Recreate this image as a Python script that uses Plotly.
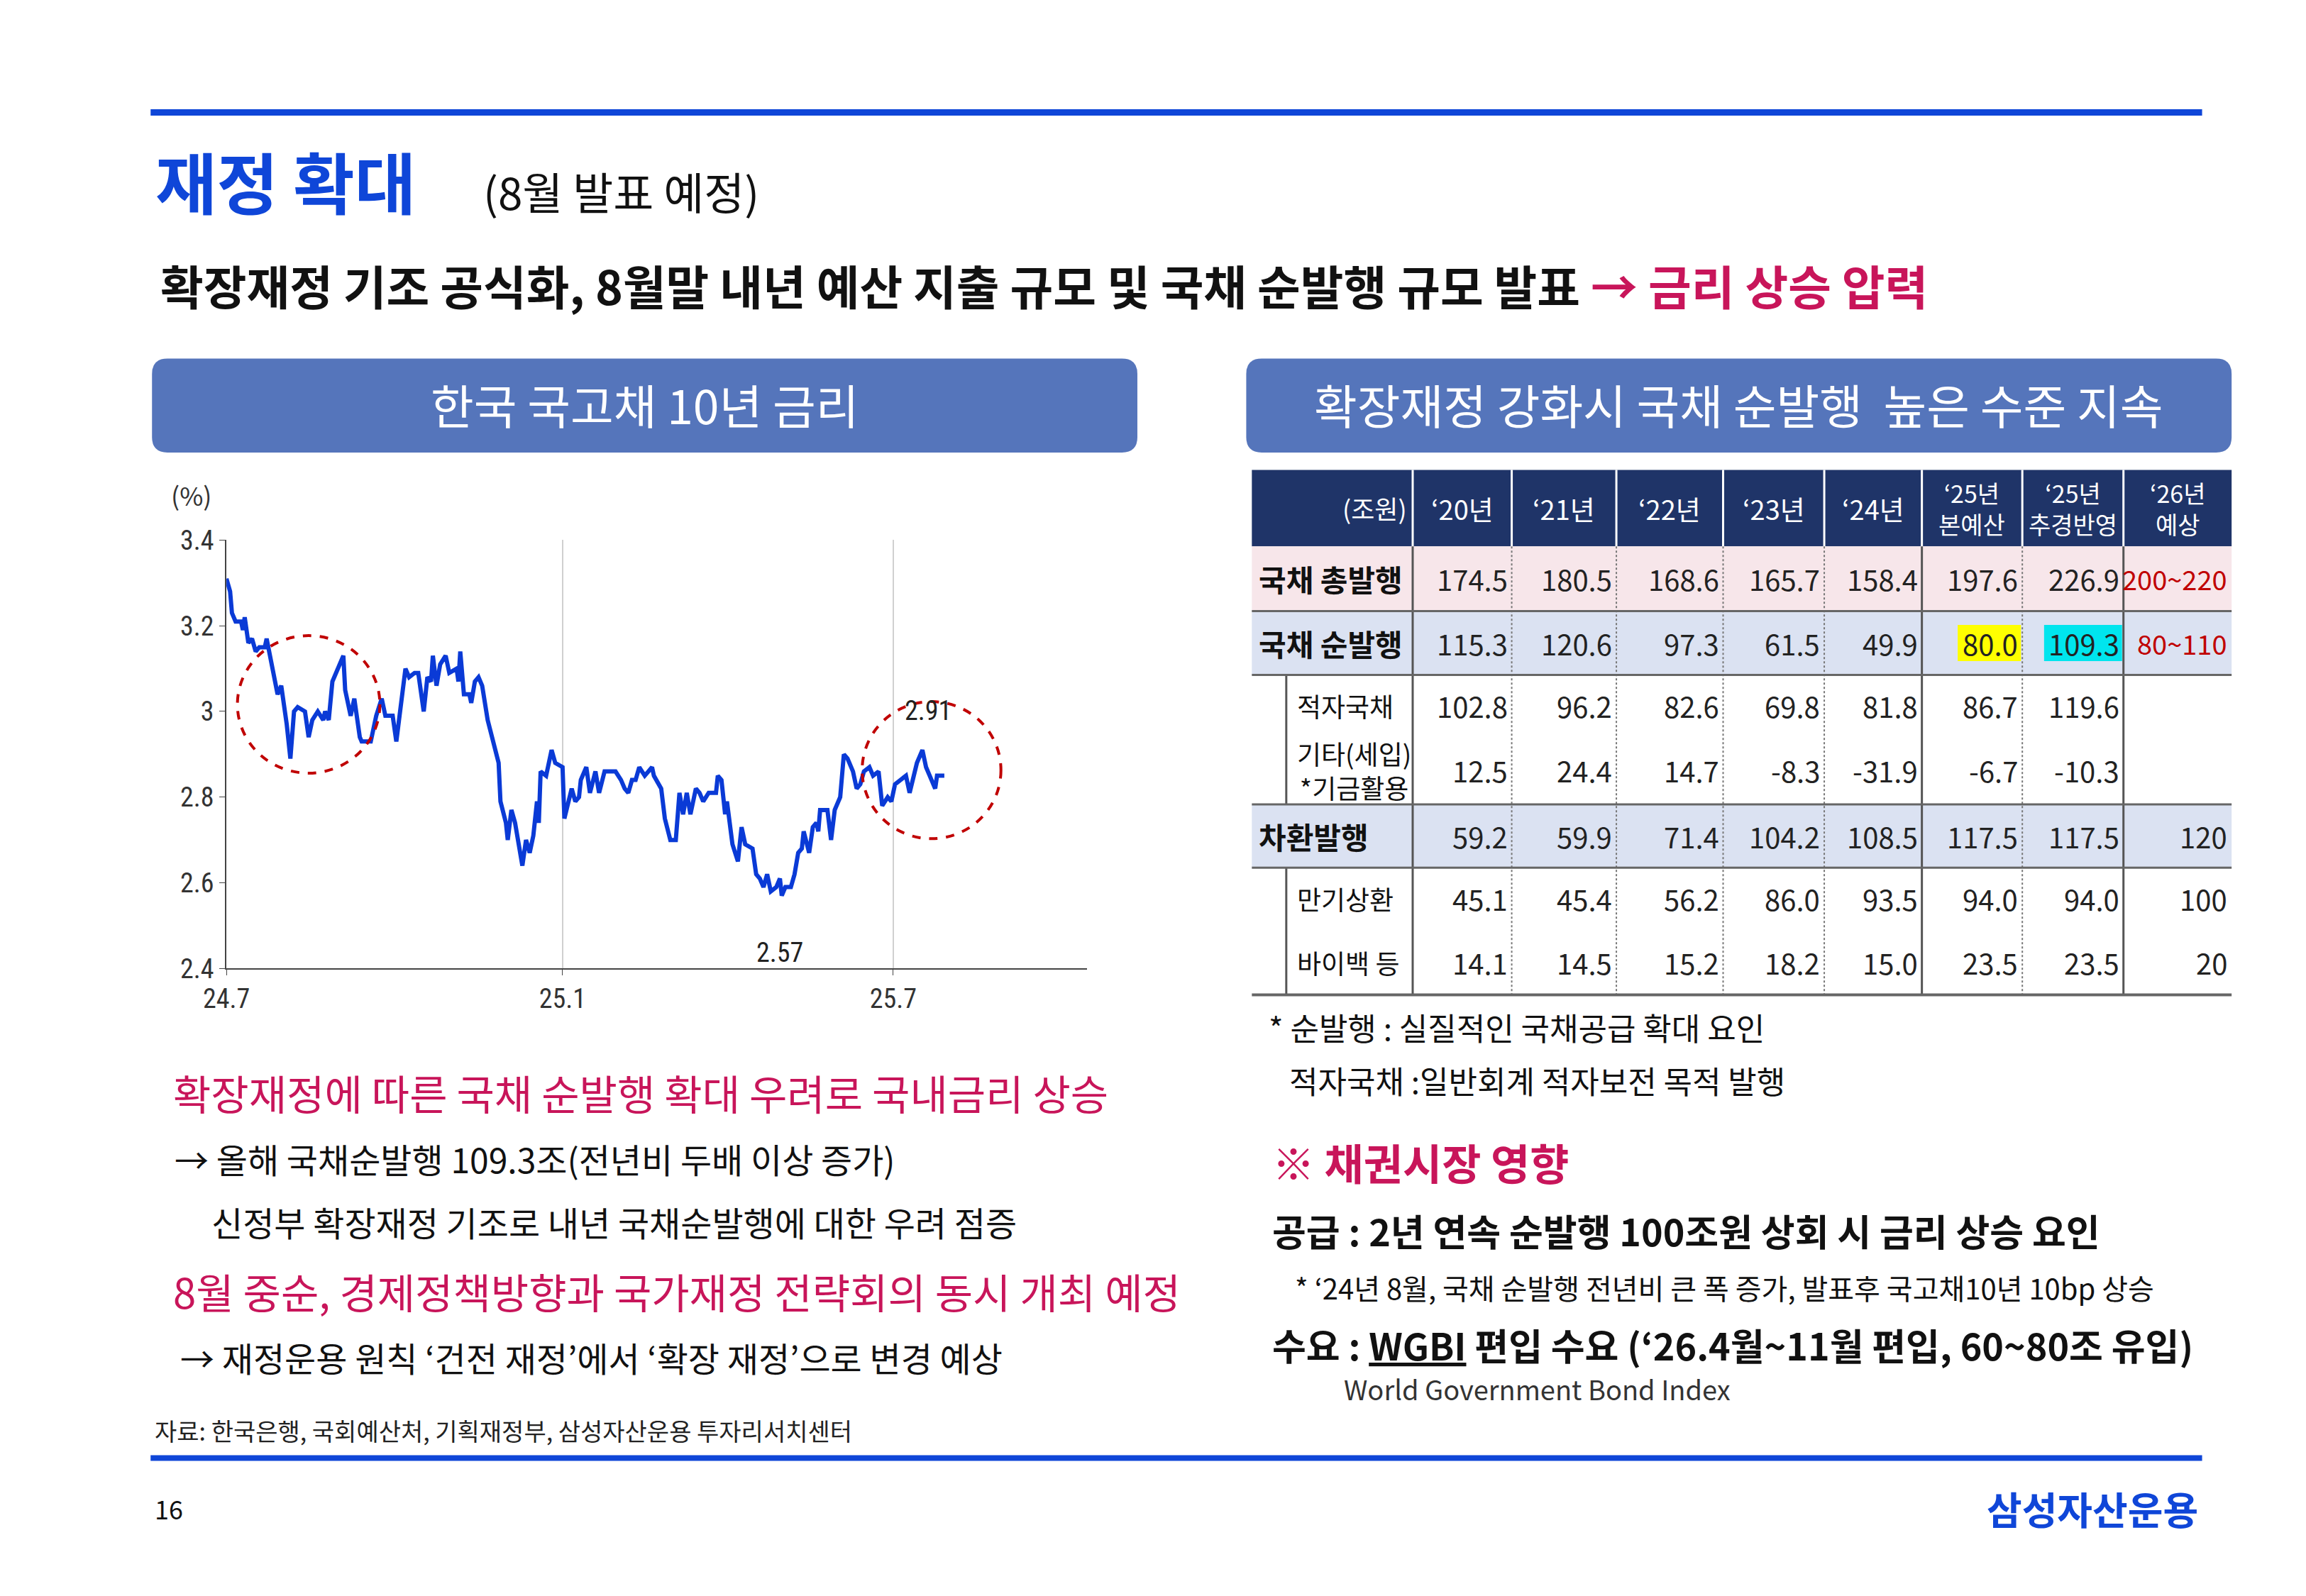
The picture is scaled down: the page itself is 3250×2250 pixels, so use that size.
import datetime as dt
import plotly.graph_objects as go

W, H = 3250, 2250
KR = "Noto Sans CJK KR"
NUM = "Liberation Sans Narrow, Roboto Condensed, Liberation Sans"

# ---- data: Korea 10Y yield (days since 2024-07-01, %) ----
day_offsets = [0,2,3,5,8,9,10,12,14,16,18,21,22,24,28,30,33,35,37,39,43,45,47,50,53,54,56,58,61,64,65,68,70,73,74,79,82,85,87,91,93,96,98,100,103,105,108,110,112,113,115,117,120,122,126,127,128,130,133,134,136,138,140,143,146,149,150,153,154,156,158,160,162,164,166,168,170,171,172,175,177,178,180,184,185,188,189,191,193,194,197,199,202,204,207,213,216,218,220,222,224,226,229,233,234,238,240,243,246,248,250,252,254,257,259,261,264,268,269,271,273,274,277,280,282,284,288,290,292,294,296,298,301,303,304,306,309,311,313,315,316,319,321,323,324,325,328,329,331,333,336,338,340,343,345,347,349,352,354,357,359,362,364,366,369,372,374,376,378,381,383,385,388,389,393]
yields = [3.31,3.28,3.23,3.21,3.21,3.19,3.22,3.16,3.17,3.14,3.15,3.15,3.17,3.13,3.04,3.06,2.97,2.89,3.00,3.01,3.00,2.94,2.98,3.00,2.98,3.00,2.98,3.07,3.10,3.13,3.05,2.99,3.03,2.94,2.93,2.93,2.99,3.03,2.99,2.99,2.93,3.04,3.10,3.08,3.09,3.09,3.00,3.08,3.07,3.13,3.06,3.11,3.13,3.09,3.10,3.07,3.14,3.04,3.04,3.02,3.07,3.08,3.06,2.98,2.93,2.88,2.79,2.74,2.70,2.77,2.74,2.69,2.64,2.70,2.67,2.71,2.79,2.74,2.86,2.85,2.89,2.91,2.88,2.87,2.75,2.80,2.82,2.79,2.80,2.84,2.87,2.81,2.86,2.81,2.86,2.86,2.84,2.82,2.81,2.84,2.84,2.87,2.85,2.87,2.85,2.82,2.75,2.70,2.70,2.81,2.76,2.81,2.76,2.82,2.81,2.79,2.81,2.81,2.85,2.84,2.76,2.79,2.69,2.65,2.73,2.69,2.68,2.62,2.61,2.59,2.62,2.58,2.59,2.61,2.57,2.59,2.59,2.62,2.67,2.68,2.72,2.67,2.73,2.74,2.72,2.77,2.77,2.77,2.70,2.77,2.80,2.90,2.89,2.86,2.82,2.83,2.86,2.87,2.85,2.86,2.78,2.80,2.79,2.83,2.84,2.85,2.81,2.85,2.88,2.91,2.87,2.85,2.82,2.85,2.85]
base_date = dt.date(2024, 7, 1)
dates = [base_date + dt.timedelta(days=d) for d in day_offsets]
y_ticks = [2.4, 2.6, 2.8, 3.0, 3.2, 3.4]
y_ticktext = ["2.4", "2.6", "2.8", "3", "3.2", "3.4"]
x_ticks = ["2024-07-01", "2025-01-01", "2025-07-01"]
x_ticktext = ["24.7", "25.1", "25.7"]

# ---- data: table ----
col_headers = ["(조원)", "‘20년", "‘21년", "‘22년", "‘23년", "‘24년", "‘25년<br>본예산", "‘25년<br>추경반영", "‘26년<br>예상"]
gross_issue = ["174.5", "180.5", "168.6", "165.7", "158.4", "197.6", "226.9", "200~220"]
net_issue = ["115.3", "120.6", "97.3", "61.5", "49.9", "80.0", "109.3", "80~110"]
deficit_bonds = ["102.8", "96.2", "82.6", "69.8", "81.8", "86.7", "119.6", ""]
other_items = ["12.5", "24.4", "14.7", "-8.3", "-31.9", "-6.7", "-10.3", ""]
refinancing = ["59.2", "59.9", "71.4", "104.2", "108.5", "117.5", "117.5", "120"]
maturity = ["45.1", "45.4", "56.2", "86.0", "93.5", "94.0", "94.0", "100"]
buyback = ["14.1", "14.5", "15.2", "18.2", "15.0", "23.5", "23.5", "20"]

def px(x):
    return x / W

def py(y):
    return 1 - y / H

ann = []
shapes = []

def text(x, y, s, size, color="#111", anchor="left", bold=False, font=KR, yanchor="middle"):
    if bold:
        s = "<b>" + s + "</b>"
    ann.append(dict(x=px(x), y=py(y), xref="paper", yref="paper", text=s, showarrow=False,
                    xanchor=anchor, yanchor=yanchor, font=dict(size=size, color=color, family=font)))

def rect(x0, y0, x1, y1, fill=None, line=None, lw=0, layer="below"):
    shapes.append(dict(type="rect", xref="paper", yref="paper", x0=px(x0), x1=px(x1), y0=py(y1), y1=py(y0),
                       fillcolor=fill or "rgba(0,0,0,0)", line=dict(color=line or "rgba(0,0,0,0)", width=lw),
                       layer=layer))

def hline(x0, x1, y, color, w, dash=None):
    shapes.append(dict(type="line", xref="paper", yref="paper", x0=px(x0), x1=px(x1), y0=py(y), y1=py(y),
                       line=dict(color=color, width=w, dash=dash)))

def vline(x, y0, y1, color, w, dash=None):
    shapes.append(dict(type="line", xref="paper", yref="paper", x0=px(x), x1=px(x), y0=py(y0), y1=py(y1),
                       line=dict(color=color, width=w, dash=dash)))

def rounded(x0, y0, x1, y1, r, fill):
    X = lambda v: px(v)
    Y = lambda v: py(v)
    path = (f"M {X(x0+r)},{Y(y0)} L {X(x1-r)},{Y(y0)} Q {X(x1)},{Y(y0)} {X(x1)},{Y(y0+r)} "
            f"L {X(x1)},{Y(y1-r)} Q {X(x1)},{Y(y1)} {X(x1-r)},{Y(y1)} L {X(x0+r)},{Y(y1)} "
            f"Q {X(x0)},{Y(y1)} {X(x0)},{Y(y1-r)} L {X(x0)},{Y(y0+r)} Q {X(x0)},{Y(y0)} {X(x0+r)},{Y(y0)} Z")
    shapes.append(dict(type="path", xref="paper", yref="paper", path=path, fillcolor=fill, line=dict(width=0), layer="below"))

BLUE = "#0f46d8"
CRIM = "#c8155a"
HDR = "#5575bb"

# page chrome
hline(173, 3094, 131, BLUE, 9)
hline(173, 3094, 2066, BLUE, 8)
text(178, 228, "재정 확대", 94, BLUE, bold=True)
text(645, 244, "(8월 발표 예정)", 62, "#111")
text(185, 378, "확장재정 기조 공식화, 8월말 내년 예산 지출 규모 및 국채 순발행 규모 발표 <span style='color:%s'>→ 금리 상승 압력</span>" % CRIM, 66, "#111", bold=True)
rounded(175, 485, 1578, 620, 22, HDR)
rounded(1733, 485, 3136, 620, 22, HDR)
text(876, 550, "한국 국고채 10년 금리", 66, "white", anchor="center")
text(2434, 550, "확장재정 강화시 국채 순발행  높은 수준 지속", 66, "white", anchor="center")
text(200, 680, "(%)", 36, "#333")

# left text block
text(203, 1540, "확장재정에 따른 국채 순발행 확대 우려로 국내금리 상승", 58, CRIM)
text(205, 1635, "→ 올해 국채순발행 109.3조(전년비 두배 이상 증가)", 48, "#111")
text(258, 1726, "신정부 확장재정 기조로 내년 국채순발행에 대한 우려 점증", 48, "#111")
text(203, 1826, "8월 중순, 경제정책방향과 국가재정 전략회의 동시 개최 예정", 58, CRIM)
text(213, 1921, "→ 재정운용 원칙 ‘건전 재정’에서 ‘확장 재정’으로 변경 예상", 48, "#111")
text(177, 2026, "자료: 한국은행, 국회예산처, 기획재정부, 삼성자산운용 투자리서치센터", 34, "#222")
text(177, 2138, "16", 36, "#111")
text(3090, 2138, "삼성자산운용", 54, BLUE, anchor="right", bold=True)

# right notes
text(1763, 1446, "* 순발행 : 실질적인 국채공급 확대 요인", 44, "#111")
text(1792, 1523, "적자국채 :일반회계 적자보전 목적 발행", 44, "#111")
text(1768, 1640, "※ 채권시장 영향", 60, CRIM, bold=True)
text(1768, 1738, "공급 : 2년 연속 순발행 100조원 상회 시 금리 상승 요인", 52, "#111", bold=True)
text(1800, 1821, "* ‘24년 8월, 국채 순발행 전년비 큰 폭 증가, 발표후 국고채10년 10bp 상승", 40, "#111")
text(1768, 1903, "수요 : <u>WGBI</u> 편입 수요 (‘26.4월~11월 편입, 60~80조 유입)", 52, "#111", bold=True)
text(1870, 1966, "World Government Bond Index", 38, "#333")

# ---- table ----
col_x = [1741, 1970, 2111, 2260, 2412, 2556, 2695, 2838, 2982, 3136]
row_y = [645, 755, 848, 940, 1028, 1126, 1217, 1307, 1400]
rows = [
    ("국채 총발행", gross_issue, "#f7e6ea", True, row_y[1], row_y[2]),
    ("국채 순발행", net_issue, "#dbe2f2", True, row_y[2], row_y[3]),
    ("적자국채", deficit_bonds, None, False, row_y[3], row_y[4]),
    ("기타(세입)<br>*기금활용", other_items, None, False, row_y[4], row_y[5]),
    ("차환발행", refinancing, "#dbe2f2", True, row_y[5], row_y[6]),
    ("만기상환", maturity, None, False, row_y[6], row_y[7]),
    ("바이백 등", buyback, None, False, row_y[7], row_y[8]),
]
rect(col_x[0], row_y[0], col_x[-1], row_y[1], fill="#1f3468")
for j, h in enumerate(col_headers):
    if j == 0:
        text(col_x[1] - 6, (row_y[0] + row_y[1]) / 2, h, 36, "white", anchor="right")
    else:
        vline(col_x[j], row_y[0], row_y[1], "white", 3)
        text((col_x[j] + col_x[j + 1]) / 2, (row_y[0] + row_y[1]) / 2, h, 34 if "<br>" in h else 38,
             "white", anchor="center")

for i, (label, vals, fill, main, y0, y1) in enumerate(rows):
    if fill:
        rect(col_x[0], y0, col_x[-1], y1, fill=fill)
    ym = (y0 + y1) / 2
    if main:
        text(col_x[0] + 8, ym, label, 42, "#111", bold=True)
    else:
        text(col_x[0] + 62, ym, label, 37, "#111")
    for j, v in enumerate(vals):
        if not v:
            continue
        xr = col_x[j + 2] - 4
        color = "#c00000" if j == 7 and i <= 1 else "#222"
        if label == "국채 순발행" and j in (5, 6):
            hl = "#ffff00" if j == 5 else "#00e5ee"
            rect(xr - 21 * len(v) - 4, ym - 26, xr + 2, ym + 26, fill=hl)
        text(xr, ym, v, 38 if j == 7 and i <= 1 else 40, color, anchor="right")

for j in range(2, 9):
    solid = j in (6, 8)
    vline(col_x[j], row_y[1], row_y[-1], "#555" if solid else "#777", 3 if solid else 2, None if solid else "dot")
vline(col_x[1], row_y[1], row_y[-1], "#555", 3)
vline(1790, row_y[3], row_y[5], "#555", 3)
vline(1790, row_y[6], row_y[-1], "#555", 3)
for k in (2, 3, 5, 6):
    hline(col_x[0], col_x[-1], row_y[k], "#666", 3)
hline(col_x[0], col_x[-1], row_y[-1], "#666", 4)

# ---- chart ----
fig = go.Figure()
fig.add_trace(go.Scatter(x=dates, y=yields, mode="lines", line=dict(color="#0a3ad6", width=6), hoverinfo="skip"))

circles = [("2024-07-07", "2024-09-23", 2.856, 3.177), ("2025-06-14", "2025-08-29", 2.703, 3.023)]
for x0, x1, y0, y1 in circles:
    shapes.append(dict(type="circle", xref="x", yref="y", x0=x0, x1=x1, y0=y0, y1=y1,
                       line=dict(color="#c00000", width=4, dash="dash")))
ann.append(dict(x="2025-07-20", y=2.91, xref="x", yref="y", text="2.91", showarrow=False, yshift=55,
                font=dict(size=38, family=NUM, color="#222")))
ann.append(dict(x="2025-04-30", y=2.57, xref="x", yref="y", text="2.57", showarrow=False, yshift=-80,
                font=dict(size=38, family=NUM, color="#222")))

fig.update_layout(
    width=W, height=H, margin=dict(l=0, r=0, t=0, b=0), paper_bgcolor="white", plot_bgcolor="white",
    showlegend=False, shapes=shapes, annotations=ann,
    xaxis=dict(domain=[px(281), px(1506)], type="date", range=["2024-07-01", "2025-10-15"],
               tickvals=x_ticks, ticktext=x_ticktext, showgrid=True, gridcolor="#d0d0d0", gridwidth=2,
               showline=True, linecolor="#444", linewidth=2, ticks="outside", ticklen=8, tickcolor="#444",
               tickfont=dict(size=38, family=NUM, color="#333"), zeroline=False),
    yaxis=dict(domain=[py(1362), py(746)], range=[2.4, 3.4], tickvals=y_ticks, ticktext=y_ticktext,
               showgrid=False, showline=True, linecolor="#444", linewidth=2, ticks="outside", ticklen=8,
               tickcolor="#444", tickfont=dict(size=38, family=NUM, color="#333"), zeroline=False),
)
fig.write_html("out.html")
